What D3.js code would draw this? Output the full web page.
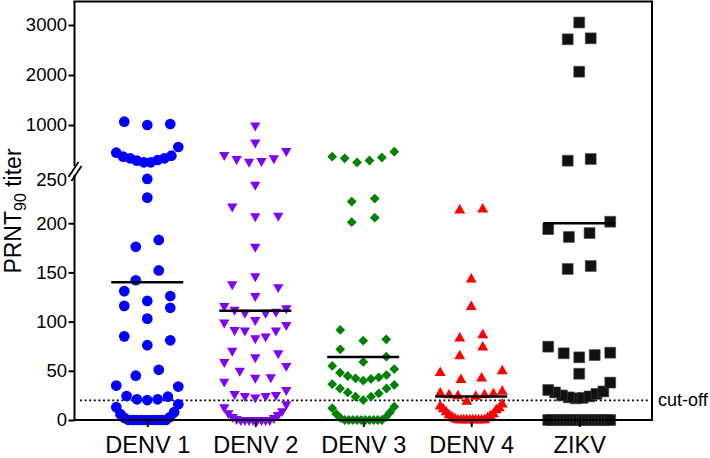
<!DOCTYPE html>
<html><head><meta charset="utf-8">
<script src="https://cdn.jsdelivr.net/npm/d3@7"></script>
<style>
body{margin:0;background:#fff}
svg{display:block}
text{font-family:"Liberation Sans",Arial,Helvetica,sans-serif;fill:#000}
</style>
</head><body>
<svg id="chart" width="710" height="458"></svg>
<script>
// ---------- data ----------
const categories = ["DENV 1","DENV 2","DENV 3","DENV 4","ZIKV"];

const denv1 = [0,0,0,0,0,0,0,0,0,0,2,3,6,8,13,16,
  20.3,21,21,23.7,24.4,34,35, 45,51, 76,81,85, 103,114,116, 121,126,131,
  142,152, 176,183, 226, 245,
  254,254,286,300,334,334,366,386,446,560, 1000,1020,1066];

const denv2 = [0,0,0,0,0,0,0,0,1,2,3,5,7,9,13,16,
  23,24.4,24.4,25.4,26.4,30.5,39, 43,43.4,50,55,59, 63.7,67.8,70.4,
  83,85,91,91,91.5,96.5,99, 101.6,109,109,110,112,113.5,116,
  126,135,138, 146, 176, 207,207.5,217, 239,
  266,280,320,334,400,480, 650, 990];

const denv3 = [0,0,0,0,0,0,0,0,0,0,2,3,6,8,12,13.5,
  20.3,23.7,23.7,27,28,32,32,35.6,36.4,
  40,41.7,42.4,43.4,44.7,45.7,48,51.8,55,
  59,64.4,71.8, 80.6,82,91.5, 201,205.6, 222,225,
  252,290,334,350,366,466];

const denv4 = [0,0,0,0,0,0,0,0,0,0,1,2,3,4,5,6,8,10,11,12,14,16,
  18.6,23.7,24.4,25.4,25.4,26.4,27,28.8, 40.7,42.4,48,49.8,
  65,73.9, 83,86.4, 115, 143, 213,214];

const zikv = [0,0,0,0,0,0,0,0,0,0,0,0,0,0,0,0,0,0,0,0,
  22,22.5,23,24,25,26.5,28,29,30.5,38, 47,
  63.7,66,67.8,68.4,74.5, 153.5,156.5, 186,190,194,201.5,
  286,320, 2066, 2714,2734, 3050];

const seriesValues = [denv1, denv2, denv3, denv4, zikv];
const means = [140, 111, 64, 24, 200];
const lowerTicks = [0,50,100,150,200,250];
const upperTicks = [1000,2000,3000];
const cutoff = 20;
const breakValue = 250;
const upperMax = 3450;
const yTitle = ["PRNT","90"," titer"];
const cutoffLabel = "cut-off";

// ---------- styles ----------
const colors = ["#0000ff","#8000ff","#008000","#ff0000","#111111"];
const shapes = [
  {type:d3.symbolCircle,  size:90,  rot:0},
  {type:d3.symbolTriangle,size:46,  rot:180},
  {type:d3.symbolSquare,  size:48,  rot:45},
  {type:d3.symbolTriangle,size:52,  rot:0},
  {type:d3.symbolSquare,  size:118, rot:0}
];

// ---------- scales ----------
const svg = d3.select("#chart");
const plotL = 74.5, plotR = 652, plotB = 420, plotT = 1.5;
const x = d3.scalePoint().domain(categories).range([plotL, plotR]).padding(0.674);
const yLow = d3.scaleLinear().domain([0, breakValue]).range([plotB, 174]);
const yHigh = d3.scaleLinear().domain([breakValue, upperMax]).range([162.5, 2.5]);
const yPos = v => v <= breakValue ? yLow(v) : yHigh(v);

// Prism-like column scatter: group nearby values into rows, spread rows horizontally
function layout(vals){
  const pts = vals.map(v => ({v, y:yPos(v)})).sort((a,b)=>a.v-b.v);
  const BIN = 16, MAXHALF = 31, STEP = 23;
  let i = 0;
  while(i < pts.length){
    const y0 = pts[i].y; let j = i;
    while(j < pts.length && y0 - pts[j].y <= BIN) j++;
    const n = j - i;
    const s = n > 1 ? Math.min(STEP, 2*MAXHALF/(n-1)) : 0;
    for(let k=0;k<n;k++){
      let off;
      if(n % 2 === 1){ off = k===0 ? 0 : (k%2===1 ? 1 : -1)*Math.ceil(k/2)*s; }
      else { off = (k%2===0 ? -1 : 1)*(Math.floor(k/2)+0.5)*s; }
      pts[i+k].dx = off;
    }
    i = j;
  }
  return pts;
}

// ---------- cut-off line ----------
svg.append("line")
  .attr("x1", 80).attr("x2", 648)
  .attr("y1", yLow(cutoff)).attr("y2", yLow(cutoff))
  .attr("stroke","#000").attr("stroke-width",1.8)
  .attr("stroke-dasharray","2,2.6");
svg.append("text").attr("x", 658).attr("y", yLow(cutoff)+6)
  .style("font-size","18px").text(cutoffLabel);

// ---------- points ----------
categories.forEach((c, ci) => {
  const pts = layout(seriesValues[ci]);
  const sym = d3.symbol().type(shapes[ci].type).size(shapes[ci].size);
  svg.append("g").selectAll("path").data(pts).join("path")
    .attr("d", sym)
    .attr("transform", d => `translate(${x(c)+d.dx},${d.y}) rotate(${shapes[ci].rot})`)
    .attr("fill", colors[ci])
    .attr("stroke", ci===4 ? "#444" : "none")
    .attr("stroke-width", 0.6);
});

// ---------- mean lines ----------
svg.append("g").selectAll("line").data(categories).join("line")
  .attr("x1", c => x(c)-36).attr("x2", c => x(c)+36)
  .attr("y1", (c,i) => yPos(means[i])).attr("y2", (c,i) => yPos(means[i]))
  .attr("stroke","#000").attr("stroke-width",2.5);

// ---------- axes ----------
const fmt = d3.format("d");
const gLow = svg.append("g").attr("transform",`translate(${plotL},0)`)
  .call(d3.axisLeft(yLow).tickValues(lowerTicks).tickFormat(fmt).tickSize(6).tickPadding(1.5).tickSizeOuter(0));
const gHigh = svg.append("g").attr("transform",`translate(${plotL},0)`)
  .call(d3.axisLeft(yHigh).tickValues(upperTicks).tickFormat(fmt).tickSize(6).tickPadding(1.5).tickSizeOuter(0));
[gLow,gHigh].forEach(g=>{
  g.select(".domain").remove();
  g.selectAll(".tick line").attr("stroke","#000").attr("stroke-width",2);
  g.selectAll(".tick text").style("font-size","18.5px").attr("fill","#000")
    .style("font-family",'"Liberation Sans",Arial,sans-serif');
});
gLow.selectAll(".tick").filter(d => d===breakValue).select("text").attr("dy","0.62em");
gLow.selectAll(".tick").filter(d => d===breakValue).select("line").remove();

const gx = svg.append("g").attr("transform",`translate(0,${plotB})`)
  .call(d3.axisBottom(x).tickSize(7).tickSizeOuter(0));
gx.select(".domain").remove();
gx.selectAll(".tick line").attr("stroke","#000").attr("stroke-width",2);
gx.selectAll(".tick text").style("font-size","23.5px").attr("fill","#000")
  .attr("y", 33).attr("dy", 0)
  .style("font-family",'"Liberation Sans",Arial,sans-serif');

// frame & broken left axis
const frame = svg.append("g").attr("stroke","#000").attr("fill","none");
frame.append("line").attr("x1",plotL).attr("x2",plotL).attr("y1",plotT).attr("y2",166).attr("stroke-width",2);
frame.append("line").attr("x1",plotL).attr("x2",plotL).attr("y1",175).attr("y2",plotB+1).attr("stroke-width",2);
frame.append("line").attr("x1",plotL-1).attr("x2",plotR+1).attr("y1",plotB).attr("y2",plotB).attr("stroke-width",2);
frame.append("line").attr("x1",plotR).attr("x2",plotR).attr("y1",plotT).attr("y2",plotB+1).attr("stroke-width",2);
frame.append("line").attr("x1",plotL-1).attr("x2",plotR+1).attr("y1",plotT).attr("y2",plotT).attr("stroke-width",2.2);
frame.append("line").attr("x1",plotL-6).attr("x2",plotL+4).attr("y1",177).attr("y2",162).attr("stroke-width",1.8);
frame.append("line").attr("x1",plotL-3).attr("x2",plotL+7).attr("y1",181).attr("y2",166).attr("stroke-width",1.8);

// y title
const yt = svg.append("text").attr("transform","translate(21,211) rotate(-90)")
  .attr("text-anchor","middle").style("font-size","23px");
yt.append("tspan").text(yTitle[0]);
yt.append("tspan").text(yTitle[1]).style("font-size","16px").attr("dy",5);
yt.append("tspan").text(yTitle[2]).attr("dy",-5);
</script>
</body></html>
